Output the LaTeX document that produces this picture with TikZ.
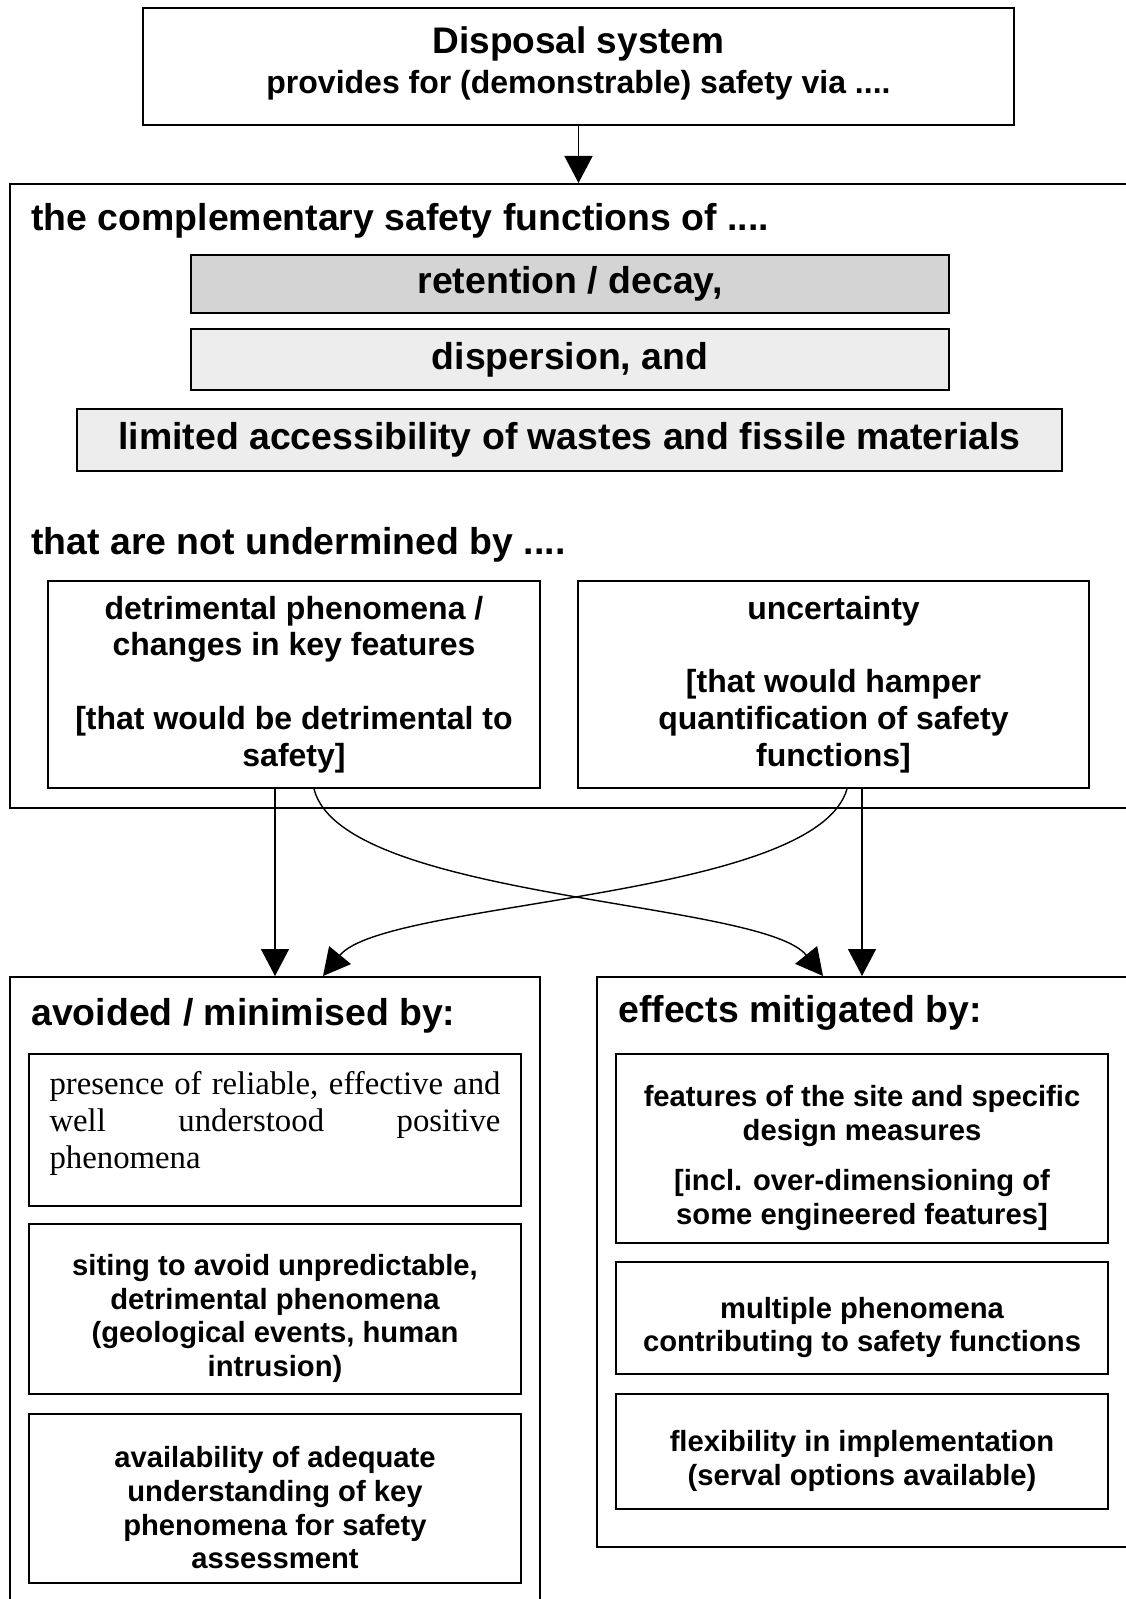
\documentclass[tikz,border=0pt]{standalone}
\usepackage{fontspec}
\setmainfont{Liberation Sans}
\newfontfamily\timesfont{Liberation Serif}
\usetikzlibrary{arrows.meta,positioning}
\newcommand{\padtop}{\rule{0pt}{20pt}}

\begin{document}
\begin{tikzpicture}[x=0.5pt,y=-0.5pt,
    box/.style={draw, line width=1pt, inner sep=0pt, align=center},
    head/.style={anchor=west, inner sep=0pt, font=\fontsize{18.7}{22}\selectfont\bfseries},
    sfbox/.style={box, font=\fontsize{18.7}{22}\selectfont\bfseries},
    topic/.style={box, font=\fontsize{16}{18.4}\selectfont\bfseries,
        minimum height=103.5pt},
    measure/.style={box, font=\fontsize{14.6}{16.8}\selectfont\bfseries,
        minimum width=246pt},
    arr/.style={line width=0.7pt, -{Triangle[width=14pt,length=13.5pt]}}]

    \path[use as bounding box, fill=white] (0,0) rectangle (1125,1599);

    % Disposal system
    \node[box, minimum width=435.5pt, minimum height=58.5pt] (dispo) at (578.5,66.5)
        {\fontsize{18.5}{21}\selectfont\bfseries Disposal system\\[3.6pt]
         \fontsize{16}{21}\selectfont\bfseries provides for (demonstrable) safety via ....\rule[-6pt]{0pt}{1pt}};

    % Safety functions
    \node[box, minimum width=565pt, minimum height=312pt] (funcs) at (575,496) {};
    \node[head] (fhead) at (31,221) {the complementary safety functions of ....};
    \node[sfbox, fill=black!17, minimum width=379pt, minimum height=29pt] (ret) at (570,284)
        {retention / decay,};
    \node[sfbox, fill=black!7, minimum width=379pt, minimum height=30.5pt] (disp) at (570,359.5)
        {dispersion, and};
    \node[sfbox, fill=black!7, minimum width=492.5pt, minimum height=31pt] (acc) at (569.5,440)
        {limited accessibility of wastes and fissile materials};
    \node[head] (uhead) at (31,545) {that are not undermined by ....};
    \node[topic, minimum width=246pt] (det) at (294,684.5)
        {detrimental phenomena /\\ changes in key features\\[18.4pt]
         {[}that would be detrimental to\\ safety]};
    \node[topic, minimum width=255.5pt] (unc) at (833.5,684.5)
        {uncertainty\\[18.4pt] {[}that would hamper\\ quantification of safety\\ functions]};

    % Avoided / minimised
    \node[box, minimum width=265pt, minimum height=331.5pt] (avoid) at (275,1308.5) {};
    \node[head] (ahead) at (31,1016) {avoided / minimised by:};
    \node[box, minimum width=246pt, minimum height=76pt, text width=225.5pt, align=justify,
        font=\fontsize{16.4}{18.6}\selectfont\timesfont] (pres) at (275,1130)
        {presence of reliable, effective and\linebreak well understood positive\linebreak
         phenomena\rule[-10pt]{0pt}{1pt}};
    \node[measure, minimum height=85pt] (siting) at (275,1309)
        {\padtop siting to avoid unpredictable,\\ detrimental phenomena\\
         (geological events, human\\ intrusion)};
    \node[measure, minimum height=84.5pt] (avail) at (275,1498.5)
        {\padtop availability of adequate\\ understanding of key\\
         phenomena for safety\\ assessment};

    % Effects mitigated
    \node[box, minimum width=271.5pt, minimum height=285pt] (mitig) at (868.5,1262) {};
    \node[head] (mhead) at (618,1013) {effects mitigated by:};
    \node[measure, minimum height=94.5pt] (feat) at (862,1148.5)
        {\padtop features of the site and specific\\ design measures\\[8.5pt]
         {[}incl. over-dimensioning of\\ some engineered features]};
    \node[measure, minimum height=56pt] (multi) at (862,1318)
        {\padtop multiple phenomena\\ contributing to safety functions};
    \node[measure, minimum height=57.5pt] (flex) at (862,1451.5)
        {\padtop flexibility in implementation\\ (serval options available)};

    % Connectors
    \draw[arr] (dispo.south) -- (dispo.south |- funcs.north);
    \draw[arr] ([xshift=-9.5pt]det.south) -- (avoid.north);
    \draw[arr] ([xshift=14.25pt]unc.south) -- ([xshift=-3.25pt]mitig.north);
    \draw[arr] ([xshift=10pt]det.south) .. controls (342,900) and (762,900)
        .. ([xshift=-22.75pt]mitig.north);
    \draw[arr] ([xshift=6.75pt]unc.south) .. controls (815,900) and (385,900)
        .. ([xshift=24pt]avoid.north);
\end{tikzpicture}
\end{document}
